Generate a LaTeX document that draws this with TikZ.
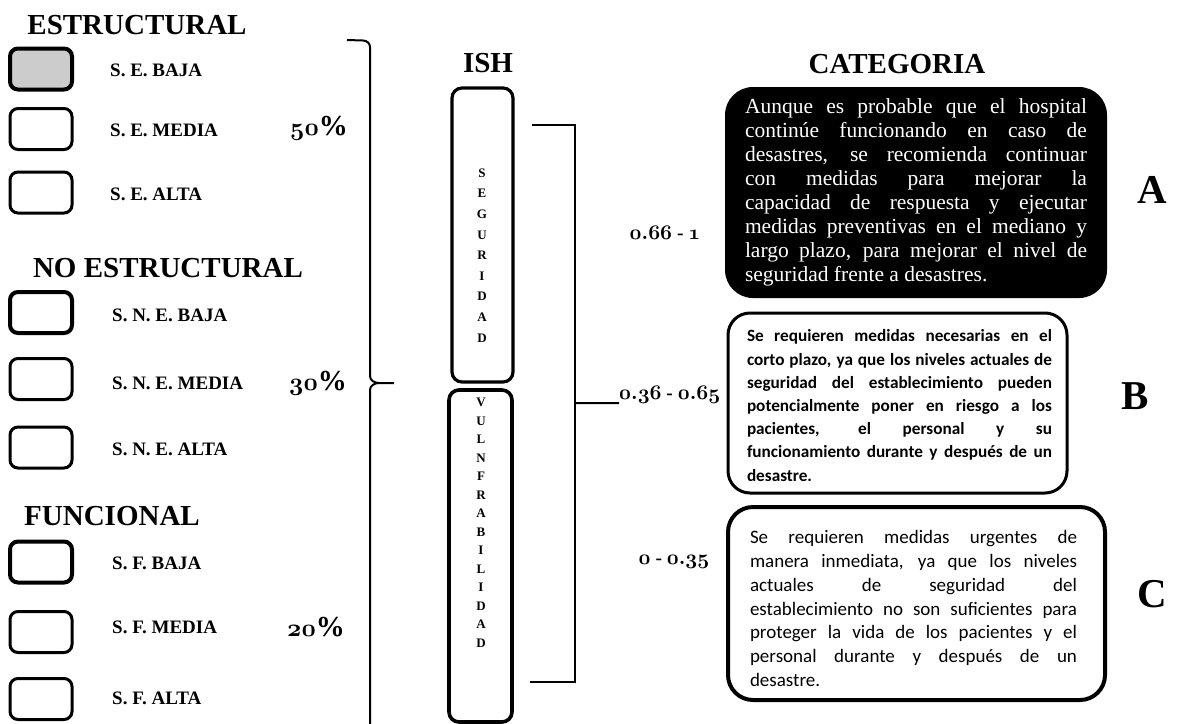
\documentclass[tikz,border=0pt]{standalone}
\usepackage{fontspec}
\setmainfont{Liberation Serif}
\newfontfamily\calib{Carlito}
\newcommand\osn[1]{{\boldmath$\mathnormal{#1}$}}
\newcommand\jl[2]{\makebox[#1][s]{#2}}
\begin{document}
\begin{tikzpicture}[x=1pt,y=-1pt,
  title/.style={font=\fontsize{29}{32}\selectfont\bfseries, inner sep=0pt},
  lvl/.style={draw, line width=3pt, rounded corners=8pt, minimum width=62pt, minimum height=41pt, inner sep=0pt},
  lvlb/.style={lvl, line width=4pt},
  lbl/.style={font=\fontsize{19}{21}\selectfont\bfseries, anchor=west, inner sep=0pt},
  pct/.style={font=\fontsize{29}{31}\selectfont\bfseries, inner sep=0pt},
  rng/.style={font=\fontsize{19.5}{21}\selectfont\bfseries, inner sep=0pt},
  ishbox/.style={draw, line width=3.2pt, rounded corners=10pt, inner sep=0pt},
  ishtxt/.style={align=center, inner sep=0pt},
  conn/.style={line width=2pt},
  cat/.style={rounded corners=25pt, inner sep=0pt},
  cattxt/.style={align=left, inner sep=0pt},
  letter/.style={font=\fontsize{41}{44}\selectfont\bfseries, inner sep=0pt}
]
\useasboundingbox (0,0) rectangle (1182,723);

% ---------------- left column ----------------
\node[title] (estr) at (137,25) {ESTRUCTURAL};
\node[lvlb, fill=gray!40] (b1) at (41,69) {};
\node[lvl] (b2) at (41,129) {};
\node[lvl] (b3) at (41,192.5) {};
\node[lbl] (l1) at (110,70) {S. E. BAJA};
\node[lbl] (l2) at (110,130) {S. E. MEDIA};
\node[lbl] (l3) at (110,194) {S. E. ALTA};
\node[pct] (p1) at (319,128) {\osn{50}\%};

\node[title] (noestr) at (168,268) {NO ESTRUCTURAL};
\node[lvlb] (b4) at (41,312.5) {};
\node[lvl] (b5) at (41,379) {};
\node[lvl] (b6) at (41,447.5) {};
\node[lbl] (l4) at (112,315) {S. N. E. BAJA};
\node[lbl] (l5) at (112,383) {S. N. E. MEDIA};
\node[lbl] (l6) at (112,449) {S. N. E. ALTA};
\node[pct] (p2) at (318,383) {\osn{30}\%};

\node[title] (func) at (112,516) {FUNCIONAL};
\node[lvlb] (b7) at (41,562) {};
\node[lvl] (b8) at (41,632) {};
\node[lvl] (b9) at (41,699) {};
\node[lbl] (l7) at (112,563) {S. F. BAJA};
\node[lbl] (l8) at (112,627) {S. F. MEDIA};
\node[lbl] (l9) at (112,698) {S. F. ALTA};
\node[pct] (p3) at (316,627) {\osn{20}\%};

% brace
\coordinate (brTop) at (347,40);
\coordinate (brTip) at (394,383);
\coordinate (brBot) at (370,730);
\draw[conn] (brTop) -- (363,40.5) to[out=0,in=90] (370,47) -- (370,376)
  to[out=-90,in=180] (379,383) -- (brTip);
\draw[conn] (379,383) to[out=180,in=90] (370,390) -- (brBot);

% ---------------- ISH column ----------------
\node[title] (ish) at (488,63) {ISH};
\node[ishbox, minimum width=61pt, minimum height=294pt] (seg) at (482.5,235) {};
\node[ishtxt, font=\fontsize{13}{20.6}\selectfont\bfseries] (segtxt) at (482,255.5)
  {S\\E\\G\\U\\R\\I\\D\\A\\D};
\node[ishbox, line width=3.6pt, minimum width=63pt, minimum height=332pt] (vul) at (480.5,556) {};
\node[ishtxt, font=\fontsize{13}{18.5}\selectfont\bfseries] (vultxt) at (481,522.5)
  {V\\U\\L\\N\\F\\R\\A\\B\\I\\L\\I\\D\\A\\D};

\coordinate (kTop) at (532,125);
\coordinate (kBot) at (530,682);
\draw[conn] (kTop) -- (575,125) -- (575,682) -- (kBot);
\node[rng, anchor=base west] (r2) at (619,399) {\osn{0.36} - \osn{0.65}};
\node[rng] (r1) at (665,233) {\osn{0.66} - \osn{1}};
\node[rng] (r3) at (674,562) {\osn{0} - \osn{0.35}};
\draw[conn] (575,403) -- (r2.south west);

% ---------------- categories ----------------
\node[title] (cat) at (897,64) {CATEGORIA};

\node[cat, fill=black, rounded corners=28pt, minimum width=382pt, minimum height=211pt] (ca) at (916,192.5) {};
\node[cattxt, text=white, font=\fontsize{21.5}{24}\selectfont] (cta) at (916,192.5) {%
\jl{342pt}{Aunque es probable que el hospital}\\
\jl{342pt}{continúe funcionando en caso de}\\
\jl{342pt}{desastres, se recomienda continuar}\\
\jl{342pt}{con medidas para mejorar la}\\
\jl{342pt}{capacidad de respuesta y ejecutar}\\
\jl{342pt}{medidas preventivas en el mediano y}\\
\jl{342pt}{largo plazo, para mejorar el nivel de}\\
\makebox[342pt][l]{seguridad frente a desastres.}};
\node[letter] (la) at (1152,190) {A};

\node[cat, draw, line width=3pt, rounded corners=22pt, minimum width=339pt, minimum height=180pt] (cb) at (897.5,403) {};
\node[cattxt, font=\calib\fontsize{17.2}{23.2}\selectfont\bfseries] (ctb) at (899.5,405.5) {%
\jl{305pt}{Se requieren medidas necesarias en el}\\
\jl{305pt}{corto plazo, ya que los niveles actuales de}\\
\jl{305pt}{seguridad del establecimiento pueden}\\
\jl{305pt}{potencialmente poner en riesgo a los}\\
\jl{305pt}{pacientes, el personal y su}\\
\jl{305pt}{funcionamiento durante y después de un}\\
\makebox[305pt][l]{desastre.}};
\node[letter] (lb) at (1135,396) {B};

\node[cat, draw, line width=4pt, rounded corners=25pt, minimum width=377pt, minimum height=193pt] (cc) at (916.5,603.5) {};
\node[cattxt, font=\calib\fontsize{19}{23.8}\selectfont] (ctc) at (913.5,608.5) {%
\jl{327pt}{Se requieren medidas urgentes de}\\
\jl{327pt}{manera inmediata, ya que los niveles}\\
\jl{327pt}{actuales de seguridad del}\\
\jl{327pt}{establecimiento no son suficientes para}\\
\jl{327pt}{proteger la vida de los pacientes y el}\\
\jl{327pt}{personal durante y después de un}\\
\makebox[327pt][l]{desastre.}};
\node[letter] (lc) at (1152,594) {C};
\end{tikzpicture}
\end{document}
